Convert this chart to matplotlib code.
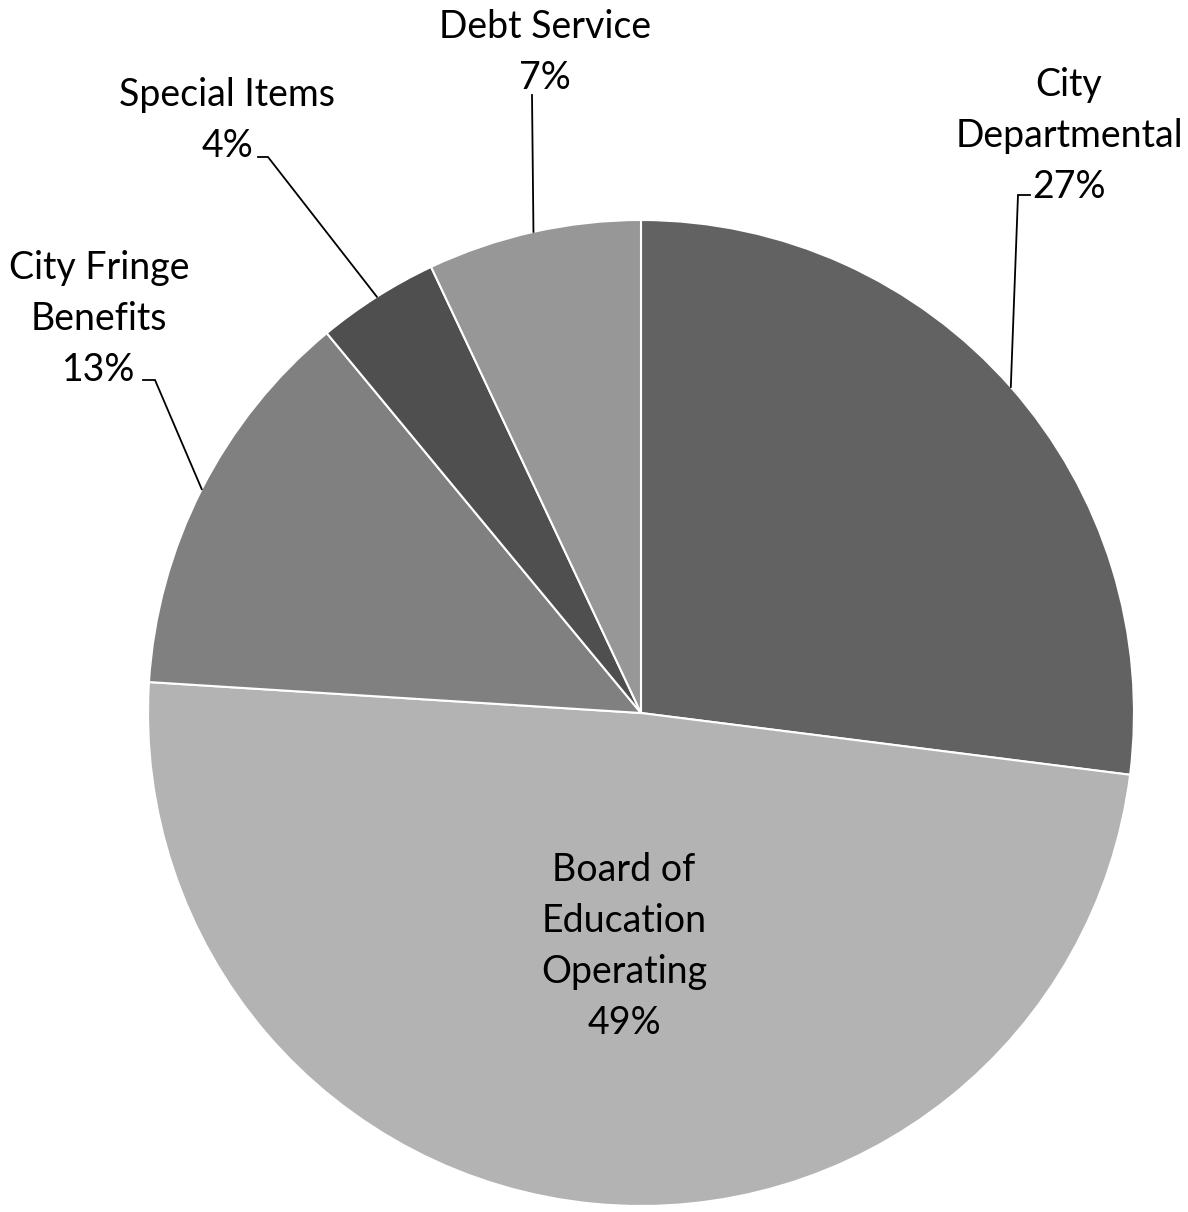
import numpy as np
import matplotlib
matplotlib.use('Agg')
import matplotlib.pyplot as plt

# budget shares, clockwise from 12 o'clock
categories = ['City Departmental', 'Board of Education Operating',
              'City Fringe Benefits', 'Special Items', 'Debt Service']
shares = [27, 49, 13, 4, 7]
colors = ['#626262', '#b3b3b3', '#808080', '#4f4f4f', '#979797']
label_lines = [['City', 'Departmental'],
               ['Board of', 'Education', 'Operating'],
               ['City Fringe', 'Benefits'],
               ['Special Items'],
               ['Debt Service']]

W, H = 1188, 1212
plt.rcParams['font.family'] = ['Lato', 'DejaVu Sans']

fig = plt.figure(figsize=(W/100., H/100.), dpi=100)
ax = fig.add_axes([0, 0, 1, 1])

cx, cy, R = 641, 713, 493   # pixel coords, y from top
ax.pie(shares, colors=colors, startangle=90, counterclock=False,
       center=(cx, H-cy), radius=R,
       wedgeprops=dict(edgecolor='white', linewidth=1.5))
ax.set_xlim(0, W)
ax.set_ylim(0, H)
ax.axis('off')

# label placement: (x centre, y of first line) and leader path (elbow pts), px from top
lab_pos = [(1069, 85), (624, 870), (99, 268), (227, 95), (545, 27)]
leaders = [[(1018, 195), (1030, 195)],
           None,
           [(155, 380), (143, 380)],
           [(268, 157), (258, 157)],
           [(532, 95)]]
step = 51
fs = 27

a0 = 90.0
for i, s in enumerate(shares):
    mid = a0 - s*3.6/2
    a0 -= s*3.6
    lines = label_lines[i] + ['%d%%' % s]
    x, y = lab_pos[i]
    for k, t in enumerate(lines):
        ax.text(x, H-(y+k*step), t, ha='center', va='center', fontsize=fs, color='black')
    if leaders[i] is not None:
        ex = cx + R*np.cos(np.radians(mid))
        ey = cy - R*np.sin(np.radians(mid))
        pts = [(ex, ey)] + leaders[i]
        ax.plot([p[0] for p in pts], [H-p[1] for p in pts], color='black', lw=1.3,
                solid_joinstyle='miter')

fig.savefig('out.png', dpi=100, facecolor='white')
